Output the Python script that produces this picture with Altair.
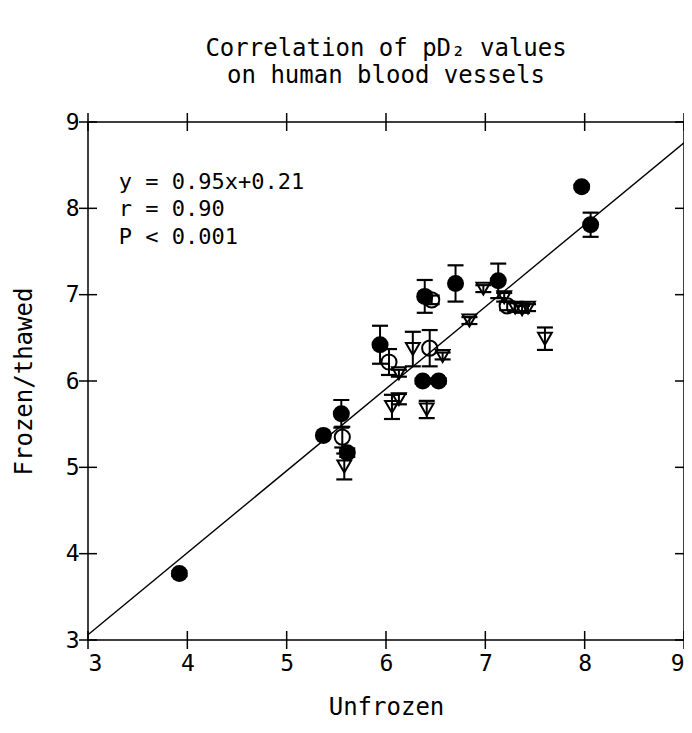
import altair as alt
import pandas as pd

# ---- data ----
filled_x = [3.92, 5.37, 5.55, 5.61, 5.94, 6.37, 6.53, 6.39, 6.70, 7.13, 7.97, 8.06]
filled_y = [3.77, 5.37, 5.62, 5.17, 6.42, 6.00, 6.00, 6.98, 7.13, 7.16, 8.25, 7.81]
filled_e = [0.03, 0.00, 0.16, 0.05, 0.22, 0.03, 0.03, 0.19, 0.21, 0.20, 0.02, 0.14]

open_x = [5.56, 6.03, 6.44, 6.46, 7.22]
open_y = [5.35, 6.22, 6.38, 6.94, 6.87]
open_e = [0.12, 0.15, 0.21, 0.05, 0.05]

tri_x = [5.58, 6.06, 6.13, 6.13, 6.27, 6.41, 6.57, 6.84, 6.98, 7.19, 7.30, 7.37, 7.43, 7.60]
tri_y = [5.01, 5.70, 5.79, 6.09, 6.37, 5.67, 6.29, 6.70, 7.07, 6.97, 6.85, 6.83, 6.85, 6.49]
tri_e = [0.15, 0.14, 0.06, 0.04, 0.20, 0.10, 0.04, 0.04, 0.04, 0.05, 0.05, 0.04, 0.04, 0.13]

slope, intercept = 0.95, 0.21
fit_x = [3, 9]

ticks = [3, 4, 5, 6, 7, 8, 9]
stats_lines = ["y = 0.95x+0.21", "r = 0.90", "P < 0.001"]
stats_y = [8.30, 7.99, 7.67]
stats_x = [3.31, 3.31, 3.31]

title_lines = ["Correlation of pD\u2082 values", "on human blood vessels"]
FONT = "DejaVu Sans Mono"
W, H = 596, 518

def frame(xs, ys, es, g):
    return pd.DataFrame({"x": xs, "y": ys, "lo": [a - b for a, b in zip(ys, es)],
                         "hi": [a + b for a, b in zip(ys, es)], "g": g})

df = pd.concat([frame(filled_x, filled_y, filled_e, "filled"),
                frame(open_x, open_y, open_e, "open"),
                frame(tri_x, tri_y, tri_e, "tri")], ignore_index=True)
fit = pd.DataFrame({"x": fit_x, "y": [slope * v + intercept for v in fit_x]})
tdf = pd.DataFrame({"v": ticks})
sdf = pd.DataFrame({"t": stats_lines, "x": stats_x, "y": stats_y})

xs = alt.Scale(domain=[3, 9], nice=False, zero=False)
ys = alt.Scale(domain=[3, 9], nice=False, zero=False)

xax = alt.Axis(values=ticks, ticks=False, domain=False, grid=False, labelFont=FONT,
               labelFontSize=23, labelColor="black", labelPadding=12,
               title="Unfrozen", titleFont=FONT, titleFontSize=24, titleFontWeight="normal",
               titleColor="black", titlePadding=20, format="d")
yax = alt.Axis(values=ticks, ticks=False, domain=False, grid=False, labelFont=FONT,
               labelFontSize=23, labelColor="black", labelPadding=9,
               title="Frozen/thawed", titleFont=FONT, titleFontSize=24, titleFontWeight="normal",
               titleColor="black", titlePadding=29, format="d")

base = alt.Chart(df)

line = alt.Chart(fit).mark_line(color="black", strokeWidth=1.4).encode(
    x=alt.X("x:Q", scale=xs, axis=xax), y=alt.Y("y:Q", scale=ys, axis=yax))

bars = base.transform_filter("datum.hi > datum.lo").mark_rule(color="black", strokeWidth=2).encode(
    x="x:Q", y="lo:Q", y2="hi:Q")
caps_hi = base.transform_filter("datum.hi > datum.lo").mark_tick(
    orient="horizontal", color="black", size=16, thickness=2.2, opacity=1).encode(x="x:Q", y="hi:Q")
caps_lo = base.transform_filter("datum.hi > datum.lo").mark_tick(
    orient="horizontal", color="black", size=16, thickness=2.2, opacity=1).encode(x="x:Q", y="lo:Q")

tri = base.transform_filter("datum.g == 'tri'").mark_point(
    shape="triangle-down", size=190, filled=False, color="black", strokeWidth=2, opacity=1).encode(
    x="x:Q", y="y:Q")
opn = base.transform_filter("datum.g == 'open'").mark_point(
    shape="circle", size=230, filled=False, color="black", strokeWidth=2, opacity=1).encode(
    x="x:Q", y="y:Q")
fil = base.transform_filter("datum.g == 'filled'").mark_point(
    shape="circle", size=290, filled=True, color="black", opacity=1).encode(
    x="x:Q", y="y:Q")

# cross ticks on all four sides
tb = alt.Chart(tdf).mark_rule(color="black", strokeWidth=1.5).encode(
    x="v:Q", y=alt.value(H - 9), y2=alt.value(H + 9))
tt = alt.Chart(tdf).mark_rule(color="black", strokeWidth=1.5).encode(
    x="v:Q", y=alt.value(-9), y2=alt.value(9))
tl = alt.Chart(tdf).mark_rule(color="black", strokeWidth=1.5).encode(
    y="v:Q", x=alt.value(-9), x2=alt.value(9))
tr = alt.Chart(tdf).mark_rule(color="black", strokeWidth=1.5).encode(
    y="v:Q", x=alt.value(W - 9), x2=alt.value(W + 9))

stats = alt.Chart(sdf).mark_text(font=FONT, fontSize=22, align="left", baseline="middle",
                                 color="black").encode(x="x:Q", y="y:Q", text="t:N")

chart = alt.layer(line, bars, caps_hi, caps_lo, tri, opn, fil, tb, tt, tl, tr, stats).properties(
    width=W, height=H,
    background="white",
    autosize=alt.AutoSizeParams(type="none"),
    padding={"left": 80, "top": 114, "right": 0, "bottom": 80},
    title=alt.TitleParams(text=title_lines, font=FONT, fontSize=24, fontWeight="normal",
                          color="black", anchor="middle", frame="group", offset=23,
                          lineHeight=27),
).configure_view(stroke="black", strokeWidth=1.5)

chart.save("out.html", embed_options={"renderer": "svg", "actions": False})
